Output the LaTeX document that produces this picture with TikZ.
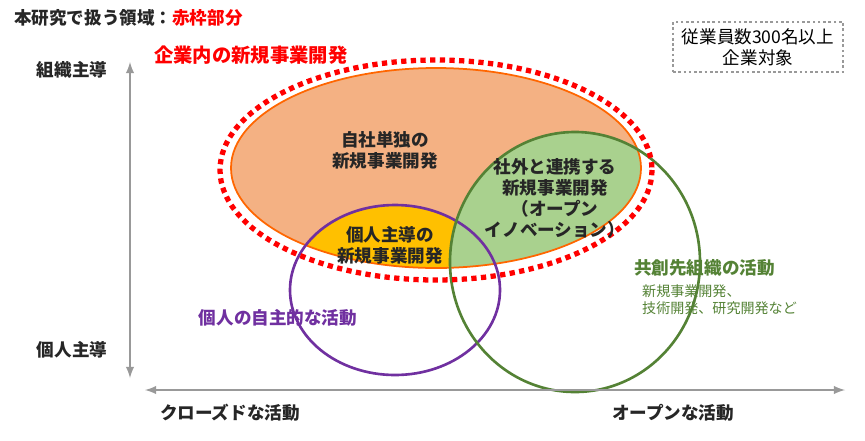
\documentclass[tikz,border=0pt]{standalone}
\usepackage{fontspec}
\setmainfont{Noto Sans CJK JP}
\begin{document}
\begin{tikzpicture}[x=0.02cm, y=-0.02cm]
    \tikzstyle{label}=[font=\bfseries\fontsize{10}{12}\selectfont, align=center, text=black!85]
    \tikzstyle{axis}=[<->, >=latex, black!40, line width=1.2pt]
    \definecolor{corp}{HTML}{F4B183}
    \definecolor{own}{HTML}{FFC000}
    \definecolor{open}{HTML}{A9D18E}
    \definecolor{indiv}{HTML}{7030A0}
    \definecolor{partner}{HTML}{548235}
    \useasboundingbox (0,0) rectangle (865,440);

    % areas
    \fill [corp] (436,168) ellipse [x radius=205, y radius=100];
    \begin{scope}
        \clip (436,168) ellipse [x radius=205, y radius=100];
        \fill [own] (395,290) ellipse [x radius=105, y radius=85];
        \fill [open] (575,262) ellipse [x radius=125, y radius=130];
    \end{scope}
    \draw [orange!80!red, line width=1pt] (436,168) ellipse [x radius=205, y radius=100];
    \draw [indiv, line width=1.5pt] (395,290) ellipse [x radius=105, y radius=85];
    \draw [partner, line width=1.5pt] (575,262) ellipse [x radius=125, y radius=130];
    \draw [red, line width=3pt, dash pattern=on 3pt off 2.5pt] (436,170) ellipse [x radius=216, y radius=110];

    % axes
    \coordinate (ytop) at (130,62);
    \coordinate (ybot) at (130,378);
    \coordinate (xl) at (145,390);
    \coordinate (xr) at (845,390);
    \draw [axis] (ybot) -- (ytop);
    \draw [axis] (xl) -- (xr);
    \node [label] (org) at (72,70) {組織主導};
    \node [label] (ind) at (72,350) {個人主導};
    \node [label] (closed) at (230,413) {クローズドな活動};
    \node [label] (opn) at (673,413) {オープンな活動};

    % texts
    \node [label, anchor=west] (title) at (8,18) {本研究で扱う領域：\textcolor{red}{赤枠部分}};
    \node [draw=black!40, line width=1.2pt, dash pattern=on 1.5pt off 1.5pt, align=center,
           minimum width=3.4cm, minimum height=1cm,
           font=\fontsize{10}{12}\selectfont, inner sep=2pt] (scope) at (758,47)
        {従業員数300名以上\\企業対象};
    \node [label, text=red, font=\bfseries\fontsize{11}{13}\selectfont, anchor=west] (corpname) at (148,55) {企業内の新規事業開発};
    \node [label] (alone) at (385,150) {自社単独の\\新規事業開発};
    \node [label] (collab) at (555,198) {社外と連携する\\新規事業開発\\（オープン\\イノベーション）};
    \node [label] (lead) at (390,245) {個人主導の\\新規事業開発};
    \node [label, text=indiv] (self) at (278,318) {個人の自主的な活動};
    \node [label, text=partner, anchor=west] (cocreate) at (628,268) {共創先組織の活動};
    \node [text=partner, anchor=north west, align=left, font=\fontsize{8}{10}\selectfont] (cotext) at (636,278)
        {新規事業開発、\\技術開発、研究開発など};
\end{tikzpicture}
\end{document}
